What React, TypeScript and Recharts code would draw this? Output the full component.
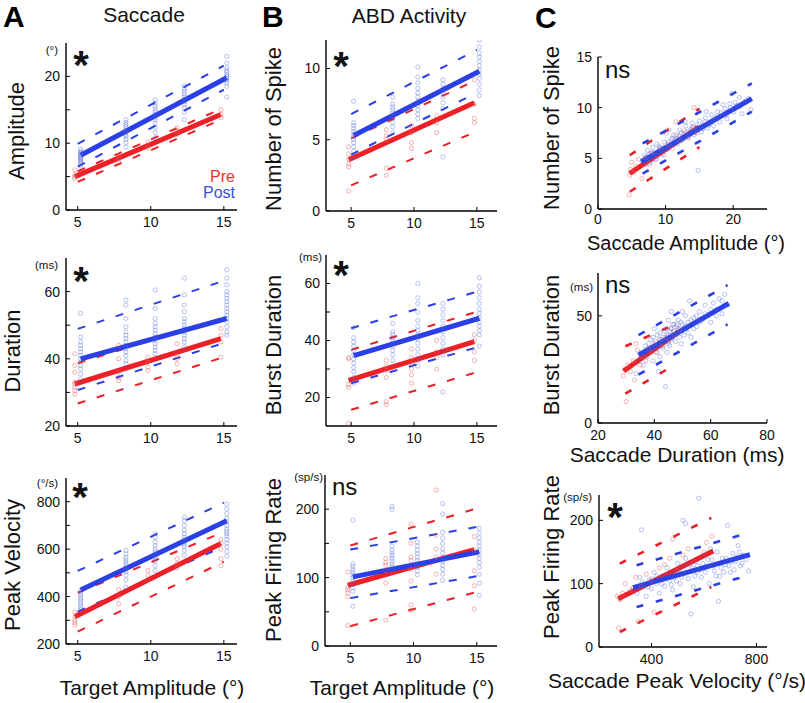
import React from 'react';
import { ComposedChart, Scatter, Line, XAxis, YAxis } from 'recharts';

const FONT = '"Liberation Sans", Arial, Helvetica, sans-serif';
const RED = '#ee2027';
const BLUE = '#2a3fe6';
const PT_RED = 'rgba(226,90,90,0.6)';
const PT_BLUE = 'rgba(70,95,215,0.5)';

// ---------- shared x columns (target amplitude) ----------
const postCols = [5.2, 8.3, 10.3, 12.3, 15.2];
const preCols = [4.8, 7.8, 9.8, 11.8, 14.8];
const postFitX = [5.2, 15.2];
const preFitX = [4.8, 14.8];
const bandX = [5, 15];

const targetTicks = [5, 10, 15];

// ---------- A1 amplitude ----------
const ampPost = [
  [6.6, 6.9, 7.1, 7.3, 7.5, 7.7, 7.9, 8.0, 8.2, 8.4, 8.6, 8.8, 9.1],
  [9.4, 10.1, 10.6, 11.0, 11.3, 11.6, 11.9, 12.2, 12.5, 12.8, 13.1, 13.5],
  [10.8, 11.6, 12.4, 13.0, 13.5, 13.9, 14.3, 14.7, 15.1, 15.5, 16.0, 16.5],
  [13.5, 14.6, 15.3, 15.8, 16.2, 16.6, 17.0, 17.4, 17.8, 18.2, 18.6],
  [16.9, 18.5, 19.0, 19.4, 19.7, 20.0, 20.3, 20.6, 20.9, 21.3, 22.0, 23.0],
];
const ampPre = [
  [4.7, 5.0, 5.3, 6.0],
  [7.2, 7.6, 8.0],
  [9.3, 9.7, 10.2],
  [11.3, 11.8, 12.3],
  [13.8, 14.3, 15.0],
];
const ampPostFit = [8.2, 19.8];
const ampPreFit = [5.0, 14.3];
const ampPostUp = [9.9, 21.6];
const ampPostLo = [6.5, 18.0];
const ampPreUp = [5.8, 15.3];
const ampPreLo = [4.2, 13.7];
const ampTicks = [0, 5, 10, 15, 20];
const ampTickLabels = [0, 10, 20];

// ---------- A2 duration ----------
const durPost = [
  [34, 35.5, 37, 38, 39, 40, 41, 42, 43, 44, 45, 46.5, 53.5],
  [38.5, 39.5, 41, 42, 43, 44, 45, 46, 47, 48, 49.5, 52, 56, 57.5],
  [41.5, 42.5, 43.5, 44.5, 45.5, 46.5, 47.5, 48.5, 49.5, 50.5, 52, 55, 60.5],
  [43.5, 45, 46, 47, 48, 49, 50, 51, 52, 54, 56, 59, 64],
  [47, 48, 49.5, 51, 52, 53, 54, 55, 56, 57, 58, 59, 60, 62, 64, 66.5],
];
const durPre = [
  [29.5, 30.5, 31.5, 32.5, 33, 36, 38, 41.5],
  [33.5, 34.5, 36, 40, 44],
  [36.5, 37.5, 39, 40.5],
  [38.5, 40, 41, 44.5],
  [40.5, 45, 47, 49],
];
const durPostFit = [40, 52];
const durPreFit = [32.5, 46];
const durPostUp = [48.9, 63.2];
const durPostLo = [30.7, 44.7];
const durPreUp = [38.7, 52.2];
const durPreLo = [26.7, 40.5];
const durTicks = [20, 30, 40, 50, 60];
const durTickLabels = [20, 40, 60];

// ---------- A3 peak velocity ----------
const velPost = [
  [345, 355, 365, 375, 385, 395, 405, 415, 425],
  [440, 470, 490, 505, 515, 525, 535, 545, 555, 565, 580, 595],
  [510, 530, 550, 560, 570, 580, 590, 600, 615, 630, 650, 665],
  [575, 595, 610, 620, 630, 640, 650, 665, 680, 700, 720, 735],
  [570, 590, 610, 625, 640, 655, 665, 675, 685, 700, 715, 730, 750, 770, 790],
];
const velPre = [
  [280, 290, 300, 315, 335],
  [370, 400, 430],
  [470, 490, 510],
  [520, 540, 560],
  [530, 560, 600, 625, 640],
];
const velPostFit = [428, 720];
const velPreFit = [315, 624];
const velPostUp = [508, 796];
const velPostLo = [336, 612];
const velPreUp = [416, 673];
const velPreLo = [252, 547];
const velTicks = [200, 300, 400, 500, 600, 700, 800];
const velTickLabels = [200, 400, 600, 800];

// ---------- B1 number of spikes ----------
const spkPost = [
  [3.8, 4.2, 4.5, 4.8, 5.0, 5.2, 5.4, 5.6, 5.8, 6.0, 6.2, 7.7],
  [5.5, 5.9, 6.2, 6.5, 6.7, 6.9, 7.1, 7.3, 7.5, 8.0],
  [6.5, 6.8, 7.1, 7.4, 7.7, 8.0, 8.3, 8.6, 9.0, 9.4, 10.1],
  [3.8, 7.2, 7.6, 8.0, 8.3, 8.6, 8.9, 9.2],
  [8.1, 8.5, 8.9, 9.3, 9.6, 9.9, 10.2, 10.5, 10.8, 11.1, 11.5, 12.0],
];
const spkPre = [
  [1.4, 3.1, 3.3, 3.6, 4.0, 4.5],
  [2.5, 3.0, 5.0, 5.3, 5.7],
  [4.4, 4.8, 5.5, 6.0],
  [5.5, 6.2, 6.7],
  [6.2, 6.5, 7.5, 9.2],
];
const spkPostFit = [5.3, 9.8];
const spkPreFit = [3.6, 7.6];
const spkPostUp = [6.8, 11.3];
const spkPostLo = [3.96, 8.3];
const spkPreUp = [5.1, 9.2];
const spkPreLo = [1.8, 5.6];
const spkTicks = [0, 5, 10];

// ---------- B2 burst duration ----------
const bdPost = [
  [25, 27, 29, 30.5, 32, 33.5, 35, 36.5, 38, 39.5, 41, 44.5],
  [33, 35, 36.5, 38, 39, 40, 41, 42, 43, 46],
  [31, 33, 35, 37, 39, 40.5, 42, 43.5, 45, 47, 50, 53, 55, 60],
  [22, 35, 37, 39, 41, 43, 45, 47, 49, 51, 53],
  [38, 42, 43.5, 45, 46.5, 48, 49.5, 51, 53, 55, 57, 59, 62],
];
const bdPre = [
  [11, 23.5, 24.5, 33.5, 34],
  [17.5, 18.5, 27, 29.5, 31, 33],
  [25, 28, 30, 32, 34, 37],
  [30, 34, 36, 40],
  [33, 36, 40, 42],
];
const bdPostFit = [34.7, 47.8];
const bdPreFit = [26, 39.6];
const bdPostUp = [44.3, 57.1];
const bdPostLo = [25, 37.6];
const bdPreUp = [36.7, 50.1];
const bdPreLo = [15.7, 28.9];
const bdTicks = [20, 30, 40, 50, 60];
const bdTickLabels = [20, 40, 60];

// ---------- B3 peak firing rate ----------
const pfrPost = [
  [58, 80, 85, 90, 95, 100, 104, 108, 112, 116, 120, 184],
  [108, 112, 116, 120, 124, 128, 132, 136, 140, 146, 200, 204],
  [104, 110, 115, 120, 125, 130, 135, 140, 146, 152],
  [96, 105, 112, 118, 124, 130, 136, 142, 150, 158, 166, 193, 208],
  [74, 92, 105, 115, 122, 128, 134, 140, 146, 152, 158, 165, 172],
];
const pfrPre = [
  [30, 72, 78, 82, 86, 108],
  [38, 92, 110, 118, 122, 128],
  [52, 60, 95, 112, 125, 130, 150, 178],
  [105, 130, 142, 162, 228],
  [54, 88, 110, 140, 160],
];
const pfrPostFit = [101, 137.6];
const pfrPreFit = [88.8, 141];
const pfrPostUp = [141, 174];
const pfrPostLo = [70, 102];
const pfrPreUp = [147, 201];
const pfrPreLo = [29, 79];
const pfrTicks = [0, 50, 100, 150, 200];
const pfrTickLabels = [0, 100, 200];

// ---------- C1 spikes vs saccade amplitude ----------
const c1Post = [
  [6.6, 4.7], [6.9, 5.3], [7.1, 4.4], [7.3, 5.8], [7.5, 5.0], [7.7, 4.6], [7.9, 5.5], [8.1, 6.1],
  [8.3, 5.2], [8.5, 4.9], [8.7, 6.4], [8.9, 5.7], [9.2, 6.0], [9.5, 5.4], [9.8, 6.6], [10.1, 7.5],
  [10.3, 5.9], [10.6, 6.3], [10.9, 6.9], [11.2, 7.3], [11.5, 6.5], [11.8, 7.0], [12.1, 7.8], [12.4, 6.8],
  [12.7, 7.4], [13.0, 8.2], [13.3, 7.1], [13.6, 7.7], [13.9, 8.5], [14.2, 7.3], [14.5, 8.0], [14.8, 3.8],
  [15.0, 8.7], [15.3, 7.6], [15.6, 8.3], [15.9, 9.0], [16.2, 8.0], [16.5, 8.6], [16.8, 9.3], [17.1, 8.2],
  [17.4, 8.9], [17.7, 9.6], [18.0, 8.6], [18.4, 9.2], [18.8, 9.9], [19.1, 8.9], [19.5, 10.4], [19.8, 11.4],
  [20.1, 9.6], [20.5, 10.2], [20.9, 11.0], [21.3, 9.4], [21.7, 10.6], [22.2, 10.9], [22.6, 9.8],
  [7.2, 5.1], [7.6, 5.4], [8.0, 4.8], [8.4, 5.6], [8.8, 5.3], [9.0, 6.2], [9.4, 5.8], [9.7, 6.1],
  [10.0, 6.0], [10.4, 6.6], [10.8, 6.2], [11.0, 7.0], [11.4, 6.8], [11.7, 6.4], [12.0, 7.2], [12.3, 7.5],
  [12.6, 6.9], [13.1, 7.6], [13.5, 7.3], [13.8, 7.9], [14.1, 8.0], [14.4, 7.6], [14.7, 8.3], [15.2, 8.1],
  [15.5, 7.9], [15.8, 8.6], [16.4, 8.3], [17.0, 8.8], [17.6, 9.1], [18.2, 9.5], [19.0, 9.3], [19.6, 10.0],
  [20.3, 10.5], [21.0, 10.1], [10.5, 7.8], [12.9, 8.6], [16.0, 9.6], [18.5, 10.3],
];
const c1Pre = [
  [4.6, 1.4], [4.7, 3.3], [4.8, 3.9], [5.0, 4.6], [5.3, 3.6], [5.6, 4.2], [6.0, 4.9], [6.5, 3.0],
  [7.0, 5.1], [7.6, 4.4], [8.0, 5.6], [8.6, 5.0], [9.2, 6.0], [9.8, 5.3], [10.4, 6.4], [11.0, 6.0],
  [11.6, 7.3], [12.2, 6.7], [12.8, 7.7], [13.4, 7.0], [14.0, 8.1], [14.6, 7.5], [14.2, 10.0], [11.5, 8.6],
];
const c1PostFitX = [6.4, 22.75];
const c1PostFit = [4.66, 10.9];
const c1PreFitX = [4.67, 15];
const c1PreFit = [3.5, 8.1];
const c1PostBandX = [6.6, 22.75];
const c1PostUp = [6.47, 12.4];
const c1PostLo = [3.5, 9.6];
const c1PreBandX = [4.7, 15];
const c1PreUp = [5.3, 9.9];
const c1PreLo = [1.7, 6.1];
const c1XTicks = [0, 10, 20];
const c1YTicks = [0, 5, 10, 15];

// ---------- C2 burst duration vs saccade duration ----------
const c2Post = [
  [33.5, 23], [34.5, 29], [35.2, 33], [36, 27], [36.8, 36], [37.5, 31], [38.2, 34], [38.8, 39],
  [39.5, 29], [40, 36], [40.5, 33], [41, 41], [41.5, 37], [42, 31], [42.5, 39], [43, 35],
  [43.5, 43], [44, 38], [44.5, 33], [45, 41], [45.5, 36], [46, 44], [46.5, 40], [47, 46],
  [47.5, 38], [48, 42], [48.5, 48], [49, 44], [49.5, 37], [50, 46], [50.5, 41], [51, 50],
  [51.5, 44], [52, 47], [53, 40], [54, 49], [55, 45], [56, 52], [57, 48], [58, 55],
  [59, 50], [60, 47], [61, 56], [62, 53], [63, 58], [64, 51], [65, 60], [66, 55],
  [44, 17], [41.5, 24], [52.5, 57], [46, 52],
  [37, 34], [38, 37], [39, 35], [39.5, 40], [40.5, 38], [41, 35], [42, 42], [42.5, 36],
  [43, 40], [43.5, 38], [44, 44], [44.5, 41], [45, 37], [45.5, 43], [46, 39], [46.5, 46],
  [47, 43], [47.5, 41], [48, 46], [48.5, 44], [49, 40], [49.5, 47], [50, 43], [51, 45],
  [52, 42], [53, 48], [54, 44], [55, 50], [56, 47], [58, 51], [60, 53], [62, 50],
  [64, 57], [40, 44], [45, 48], [50, 52],
];
const c2Pre = [
  [29, 22], [29.5, 25], [30, 10], [30.5, 27], [31.5, 24], [32.5, 29], [33, 20], [34, 34],
  [35, 27], [36, 31], [37, 29], [38, 35], [39, 33], [40, 37], [41, 33], [42, 39],
  [43, 36], [44, 40], [45, 38], [46, 44], [47, 41], [48, 45], [49, 43], [33.5, 37],
];
const c2PostFitX = [34.4, 66.4];
const c2PostFit = [31.6, 55.8];
const c2PreFitX = [29.1, 48.6];
const c2PreFit = [24.3, 42.5];
const c2PostBandX = [34.4, 66];
const c2PostUp = [41, 64.3];
const c2PostLo = [22.6, 46];
const c2PreBandX = [29.7, 48];
const c2PreUp = [35.8, 46.4];
const c2PreLo = [13.7, 27.7];
const c2XTicks = [20, 40, 60, 80];
const c2YTicks = [0, 50];

// ---------- C3 peak firing rate vs saccade peak velocity ----------
const c3Post = [
  [330, 93], [345, 85], [355, 110], [362, 185], [370, 98], [380, 80], [390, 105], [400, 92],
  [410, 118], [420, 100], [430, 85], [440, 112], [450, 96], [460, 125], [470, 105], [480, 90],
  [490, 118], [500, 132], [510, 100], [520, 115], [530, 140], [540, 108], [550, 52], [555, 125],
  [560, 95], [570, 135], [575, 118], [580, 235], [590, 110], [600, 145], [610, 128], [620, 100],
  [630, 138], [640, 120], [650, 150], [655, 72], [660, 112], [670, 140], [680, 130], [690, 192],
  [700, 118], [710, 148], [720, 135], [730, 160], [740, 128], [750, 145], [760, 138], [770, 120],
  [520, 200], [530, 195], [625, 155],
  [440, 100], [455, 108], [465, 115], [475, 98], [485, 110], [495, 104], [505, 122], [515, 110],
  [525, 128], [535, 118], [545, 130], [565, 112], [575, 128], [585, 122], [595, 132], [605, 118],
  [615, 138], [635, 128], [645, 112], [665, 125], [675, 118], [685, 140], [695, 128], [705, 135],
  [715, 122], [725, 142], [735, 150], [745, 132], [420, 112], [400, 108], [385, 95], [365, 102],
];
const c3Pre = [
  [270, 80], [275, 30], [280, 75], [290, 85], [300, 100], [320, 90], [340, 110], [350, 40],
  [360, 95], [380, 115], [400, 105], [410, 55], [430, 125], [450, 130], [470, 140], [480, 170],
  [500, 120], [520, 145], [540, 155], [560, 135], [600, 150], [630, 175], [610, 165],
];
const c3PostFitX = [330, 775];
const c3PostFit = [93.7, 145.8];
const c3PreFitX = [273, 635];
const c3PreFit = [76.3, 151.6];
const c3PostBandX = [343, 768];
const c3PostUp = [129, 180];
const c3PostLo = [63, 113];
const c3PreBandX = [279, 628];
const c3PreUp = [131.6, 204];
const c3PreLo = [23.7, 94.7];
const c3XTicks = [400, 800];
const c3YTicks = [0, 100, 200];

// ---------- helpers ----------
type Pt = { x: number; y: number };
const fromCols = (xs: number[], ys: number[][]): Pt[] =>
  ys.flatMap((col, i) => col.map((y) => ({ x: xs[i], y })));
const fromPairs = (ps: number[][]): Pt[] => ps.map(([x, y]) => ({ x, y }));
const seg = (xs: number[], ys: number[]): Pt[] => [
  { x: xs[0], y: ys[0] },
  { x: xs[1], y: ys[1] },
];

const dot = (color: string) => (p: any) =>
  p.cx == null ? <g /> : <circle cx={p.cx} cy={p.cy} r={2.1} fill="none" stroke={color} strokeWidth={0.75} />;

type PanelCfg = {
  left: number; top: number; w: number; h: number;
  xDomain: number[]; xTicks: number[];
  yDomain: number[]; yTicks: number[]; yLabels: number[];
  pre: Pt[]; post: Pt[];
  preFit: Pt[]; postFit: Pt[];
  preUp: Pt[]; preLo: Pt[]; postUp: Pt[]; postLo: Pt[];
  dash: string; dashW: number; xMargin?: number;
};

const YW = 44;
const XH = 30;
const MT = 12;
const MR = 12;

function Panel({ c }: { c: PanelCfg }) {
  const W = c.w + YW + MR;
  const H = c.h + MT + XH;
  const tickStyle = { fontSize: 14, fill: '#111', fontFamily: FONT };
  const axisLine = { stroke: '#000', strokeWidth: 1.4 };
  return (
    <div style={{ position: 'absolute', left: c.left - YW, top: c.top - MT }}>
      <ComposedChart width={W} height={H} margin={{ top: MT, right: MR, bottom: 0, left: 0 }}>
        <XAxis
          type="number" dataKey="x" domain={c.xDomain} ticks={c.xTicks} allowDataOverflow interval={0}
          height={XH} tickSize={-4} tickMargin={c.xMargin ?? 11} axisLine={axisLine} tickLine={{ stroke: '#000' }}
          tick={tickStyle}
        />
        <YAxis
          type="number" dataKey="y" domain={c.yDomain} ticks={c.yTicks} allowDataOverflow interval={0}
          width={YW} tickSize={-4} tickMargin={10} axisLine={axisLine} tickLine={{ stroke: '#000' }}
          tick={tickStyle}
          tickFormatter={(v: number) => (c.yLabels.includes(v) ? String(v) : '')}
        />
        <Scatter data={c.pre} shape={dot(PT_RED)} isAnimationActive={false} />
        <Scatter data={c.post} shape={dot(PT_BLUE)} isAnimationActive={false} />
        <Line data={c.preUp} dataKey="y" type="linear" stroke={RED} strokeWidth={c.dashW} strokeDasharray={c.dash} dot={false} activeDot={false} isAnimationActive={false} />
        <Line data={c.preLo} dataKey="y" type="linear" stroke={RED} strokeWidth={c.dashW} strokeDasharray={c.dash} dot={false} activeDot={false} isAnimationActive={false} />
        <Line data={c.postUp} dataKey="y" type="linear" stroke={BLUE} strokeWidth={c.dashW} strokeDasharray={c.dash} dot={false} activeDot={false} isAnimationActive={false} />
        <Line data={c.postLo} dataKey="y" type="linear" stroke={BLUE} strokeWidth={c.dashW} strokeDasharray={c.dash} dot={false} activeDot={false} isAnimationActive={false} />
        <Line data={c.preFit} dataKey="y" type="linear" stroke={RED} strokeWidth={5} dot={false} activeDot={false} isAnimationActive={false} />
        <Line data={c.postFit} dataKey="y" type="linear" stroke={BLUE} strokeWidth={5} dot={false} activeDot={false} isAnimationActive={false} />
      </ComposedChart>
    </div>
  );
}

const AB_DASH = '8 12';
const C_DASH = '7 13';

const colA = { left: 66, w: 171, xDomain: [4.2, 15.9], xTicks: targetTicks };
const colB = { left: 326, w: 171, xDomain: [3, 16.6], xTicks: targetTicks };

const panels: PanelCfg[] = [
  {
    ...colA, top: 43, h: 167, yDomain: [0, 25], yTicks: ampTicks, yLabels: ampTickLabels,
    pre: fromCols(preCols, ampPre), post: fromCols(postCols, ampPost),
    preFit: seg(preFitX, ampPreFit), postFit: seg(postFitX, ampPostFit),
    preUp: seg(bandX, ampPreUp), preLo: seg(bandX, ampPreLo),
    postUp: seg(bandX, ampPostUp), postLo: seg(bandX, ampPostLo), dash: AB_DASH, dashW: 2,
  },
  {
    ...colA, top: 258, h: 168, yDomain: [20, 70], yTicks: durTicks, yLabels: durTickLabels,
    pre: fromCols(preCols, durPre), post: fromCols(postCols, durPost),
    preFit: seg(preFitX, durPreFit), postFit: seg(postFitX, durPostFit),
    preUp: seg(bandX, durPreUp), preLo: seg(bandX, durPreLo),
    postUp: seg(bandX, durPostUp), postLo: seg(bandX, durPostLo), dash: AB_DASH, dashW: 2,
  },
  {
    ...colA, top: 478, h: 166, yDomain: [200, 900], yTicks: velTicks, yLabels: velTickLabels,
    pre: fromCols(preCols, velPre), post: fromCols(postCols, velPost),
    preFit: seg(preFitX, velPreFit), postFit: seg(postFitX, velPostFit),
    preUp: seg(bandX, velPreUp), preLo: seg(bandX, velPreLo),
    postUp: seg(bandX, velPostUp), postLo: seg(bandX, velPostLo), dash: AB_DASH, dashW: 2,
  },
  {
    ...colB, top: 40, h: 171, yDomain: [0, 12], yTicks: spkTicks, yLabels: spkTicks,
    pre: fromCols(preCols, spkPre), post: fromCols(postCols, spkPost),
    preFit: seg(preFitX, spkPreFit), postFit: seg(postFitX, spkPostFit),
    preUp: seg(bandX, spkPreUp), preLo: seg(bandX, spkPreLo),
    postUp: seg(bandX, spkPostUp), postLo: seg(bandX, spkPostLo), dash: AB_DASH, dashW: 2,
  },
  {
    ...colB, top: 255, h: 171, yDomain: [10, 70], yTicks: bdTicks, yLabels: bdTickLabels,
    pre: fromCols(preCols, bdPre), post: fromCols(postCols, bdPost),
    preFit: seg(preFitX, bdPreFit), postFit: seg(postFitX, bdPostFit),
    preUp: seg(bandX, bdPreUp), preLo: seg(bandX, bdPreLo),
    postUp: seg(bandX, bdPostUp), postLo: seg(bandX, bdPostLo), dash: AB_DASH, dashW: 2,
  },
  {
    ...colB, left: 325, w: 172, top: 475, h: 171, yDomain: [0, 250], yTicks: pfrTicks, yLabels: pfrTickLabels,
    pre: fromCols(preCols, pfrPre), post: fromCols(postCols, pfrPost),
    preFit: seg(preFitX, pfrPreFit), postFit: seg(postFitX, pfrPostFit),
    preUp: seg(bandX, pfrPreUp), preLo: seg(bandX, pfrPreLo),
    postUp: seg(bandX, pfrPostUp), postLo: seg(bandX, pfrPostLo), dash: AB_DASH, dashW: 2,
  },
  {
    left: 598, w: 169, top: 57, h: 152, xDomain: [0, 25], xTicks: c1XTicks, xMargin: 9,
    yDomain: [0, 15], yTicks: c1YTicks, yLabels: c1YTicks,
    pre: fromPairs(c1Pre), post: fromPairs(c1Post),
    preFit: seg(c1PreFitX, c1PreFit), postFit: seg(c1PostFitX, c1PostFit),
    preUp: seg(c1PreBandX, c1PreUp), preLo: seg(c1PreBandX, c1PreLo),
    postUp: seg(c1PostBandX, c1PostUp), postLo: seg(c1PostBandX, c1PostLo), dash: C_DASH, dashW: 2.6,
  },
  {
    left: 598, w: 169, top: 273, h: 150, xDomain: [20, 80], xTicks: c2XTicks,
    yDomain: [0, 70], yTicks: c2YTicks, yLabels: c2YTicks,
    pre: fromPairs(c2Pre), post: fromPairs(c2Post),
    preFit: seg(c2PreFitX, c2PreFit), postFit: seg(c2PostFitX, c2PostFit),
    preUp: seg(c2PreBandX, c2PreUp), preLo: seg(c2PreBandX, c2PreLo),
    postUp: seg(c2PostBandX, c2PostUp), postLo: seg(c2PostBandX, c2PostLo), dash: C_DASH, dashW: 2.6,
  },
  {
    left: 599, w: 168, top: 495, h: 152, xDomain: [200, 840], xTicks: c3XTicks,
    yDomain: [0, 240], yTicks: c3YTicks, yLabels: c3YTicks,
    pre: fromPairs(c3Pre), post: fromPairs(c3Post),
    preFit: seg(c3PreFitX, c3PreFit), postFit: seg(c3PostFitX, c3PostFit),
    preUp: seg(c3PreBandX, c3PreUp), preLo: seg(c3PreBandX, c3PreLo),
    postUp: seg(c3PostBandX, c3PostUp), postLo: seg(c3PostBandX, c3PostLo), dash: C_DASH, dashW: 2.6,
  },
];

const YLab = ({ x, y, t }: { x: number; y: number; t: string }) => (
  <text x={x} y={y} transform={`rotate(-90 ${x} ${y})`} textAnchor="middle" fontSize={22} fill="#111">{t}</text>
);
const XLab = ({ x, y, t, fs = 21 }: { x: number; y: number; t: string; fs?: number }) => (
  <text x={x} y={y} textAnchor="middle" fontSize={fs} fill="#111">{t}</text>
);
const Unit = ({ x, y, t }: { x: number; y: number; t: string }) => (
  <text x={x} y={y} textAnchor="end" fontSize={11.5} fill="#111">{t}</text>
);
const Star = ({ x, y }: { x: number; y: number }) => (
  <text x={x} y={y + 23} textAnchor="middle" fontSize={40} fontWeight="bold" fill="#111">*</text>
);
const Ns = ({ x, y }: { x: number; y: number }) => (
  <text x={x} y={y} fontSize={24} fill="#111">ns</text>
);

export default function App() {
  return (
    <div style={{ position: 'absolute', left: 0, top: 0, width: 805, height: 703, background: '#fff', overflow: 'hidden', fontFamily: FONT }}>
      {panels.map((c, i) => (
        <Panel key={i} c={c} />
      ))}
      <svg width={805} height={703} style={{ position: 'absolute', left: 0, top: 0, pointerEvents: 'none' }} fontFamily={FONT}>
        <text x={3} y={27} fontSize={30} fontWeight="bold" fill="#000">A</text>
        <text x={262} y={27} fontSize={30} fontWeight="bold" fill="#000">B</text>
        <text x={535} y={28} fontSize={30} fontWeight="bold" fill="#000">C</text>
        <text x={144} y={22} textAnchor="middle" fontSize={21} fill="#111">Saccade</text>
        <text x={409} y={23} textAnchor="middle" fontSize={21} fill="#111">ABD Activity</text>

        <YLab x={24} y={131} t="Amplitude" />
        <YLab x={20} y={351} t="Duration" />
        <YLab x={20} y={565} t="Peak Velocity" />
        <YLab x={281} y={129} t="Number of Spike" />
        <YLab x={281} y={345} t="Burst Duration" />
        <YLab x={281} y={560} t="Peak Firing Rate" />
        <YLab x={559} y={128} t="Number of Spike" />
        <YLab x={559} y={345} t="Burst Duration" />
        <YLab x={559} y={557} t="Peak Firing Rate" />

        <XLab x={152} y={695} t="Target Amplitude (°)" />
        <XLab x={402} y={695} t="Target Amplitude (°)" />
        <XLab x={686} y={250} t="Saccade Amplitude (°)" fs={20} />
        <XLab x={677} y={462} t="Saccade Duration (ms)" />
        <XLab x={677} y={688} t="Saccade Peak Velocity (°/s)" />

        <Unit x={58} y={54} t="(°)" />
        <Unit x={58} y={269} t="(ms)" />
        <Unit x={58} y={487} t="(°/s)" />
        <Unit x={322} y={261} t="(ms)" />
        <Unit x={323} y={481} t="(sp/s)" />
        <Unit x={593} y={291} t="(ms)" />
        <Unit x={592} y={501} t="(sp/s)" />

        <Star x={81} y={56} />
        <Star x={81} y={272} />
        <Star x={80} y={488} />
        <Star x={341} y={57} />
        <Star x={341} y={266} />
        <Star x={615} y={508} />
        <Ns x={332} y={495} />
        <Ns x={605} y={78} />
        <Ns x={605} y={293} />

        <text x={235} y={182} textAnchor="end" fontSize={16} fill="#e8342f">Pre</text>
        <text x={235} y={198} textAnchor="end" fontSize={16} fill="#3a4fd8">Post</text>
      </svg>
    </div>
  );
}
